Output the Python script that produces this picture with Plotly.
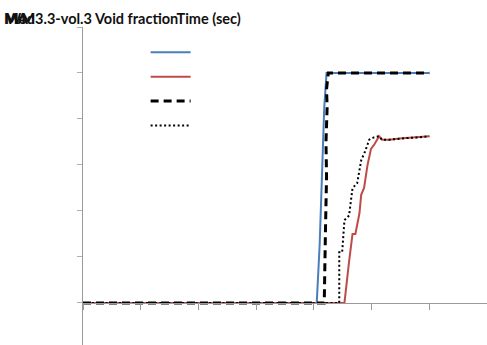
import plotly.graph_objects as go

# Time axis (sec) and void fraction series at volume 3
t_blue = [0, 20, 40.5, 41.0, 41.4, 41.8, 42.2, 45, 50, 55, 60]
vf_blue = [0, 0, 0, 0.25, 0.55, 0.85, 1.0, 1.0, 1.0, 1.0, 1.0]

t_red = [0, 20, 40, 45.3, 46.1, 46.7, 47.2, 47.9, 48.2, 48.7, 49.3, 49.9, 50.5,
         51.3, 51.8, 53.1, 54.8, 56.5, 58.2, 60]
vf_red = [0, 0, 0, 0, 0.18, 0.30, 0.30, 0.39, 0.47, 0.50, 0.60, 0.67, 0.69,
          0.725, 0.71, 0.71, 0.715, 0.718, 0.72, 0.725]

t_dash = [0, 20, 41.8, 42.0, 42.2, 42.1, 42.3, 42.2, 42.5, 45, 50, 55, 60]
vf_dash = [0, 0, 0, 0.3, 0.55, 0.7, 0.85, 0.93, 1.0, 1.0, 1.0, 1.0, 1.0]

t_dot = [0, 20, 44.4, 44.4, 44.9, 45.3, 46.1, 46.7, 47.5, 48.2, 48.9, 49.6,
         50.4, 51.3, 51.8, 53.1, 54.8, 56.5, 58.2, 60]
vf_dot = [0, 0, 0, 0.22, 0.22, 0.36, 0.38, 0.50, 0.52, 0.62, 0.66, 0.71,
          0.72, 0.725, 0.71, 0.71, 0.715, 0.718, 0.72, 0.725]

x_ticks = [0, 10, 20, 30, 40, 50, 60, 70]
y_ticks = [0, 0.2, 0.4, 0.6, 0.8, 1.0, 1.2]
x_range = [0, 70]
y_range = [-0.183, 1.2]

fig = go.Figure()
fig.add_trace(go.Scatter(x=t_blue, y=vf_blue, mode="lines", name=" ",
                         line=dict(color="#4a7ebb", width=2)))
fig.add_trace(go.Scatter(x=t_red, y=vf_red, mode="lines", name=" ",
                         line=dict(color="#be4b48", width=2)))
fig.add_trace(go.Scatter(x=t_dash, y=vf_dash, mode="lines", name=" ",
                         line=dict(color="black", width=3, dash="8px,5px")))
fig.add_trace(go.Scatter(x=t_dot, y=vf_dot, mode="lines", name=" ",
                         line=dict(color="black", width=2, dash="2px,2.5px")))

# x axis crosses the value axis at zero
x_cross = (0 - y_range[0]) / (y_range[1] - y_range[0])

fig.update_layout(
    width=487, height=345,
    margin=dict(l=83, r=0, t=27, b=0),
    paper_bgcolor="white", plot_bgcolor="white",
    showlegend=True,
    legend=dict(x=0.155, y=0.975, xanchor="left", yanchor="top",
                bgcolor="rgba(0,0,0,0)", font=dict(size=16.5, color="white"),
                itemwidth=40),
    xaxis=dict(range=x_range, tickvals=x_ticks, showticklabels=False,
               showgrid=False, zeroline=False, showline=True,
               linecolor="#9a9a9a", linewidth=1, ticks="outside",
               ticklen=6, tickcolor="#9a9a9a", anchor="free",
               position=x_cross),
    yaxis=dict(range=y_range, tickvals=y_ticks, showticklabels=False,
               showgrid=False, zeroline=False, showline=True,
               linecolor="#9a9a9a", linewidth=1, ticks="outside",
               ticklen=5, tickcolor="#b0b0b0"),
)

# Overlapping series captions in the header line
title_font = dict(family="Lato", size=14.5, color="#111111")
fig.add_annotation(text="<b>Mod3.3-vol.3 Void fractionTime (sec)</b>",
                   xref="paper", yref="paper", x=-80/404, y=1.0,
                   xanchor="left", yanchor="bottom", showarrow=False,
                   yshift=-2, font=title_font)
fig.add_annotation(text="<b>MA</b>",
                   xref="paper", yref="paper", x=-81/404, y=1.0,
                   xanchor="left", yanchor="bottom", showarrow=False,
                   yshift=-2, font=title_font)
fig.add_annotation(text="<b>WM</b>",
                   xref="paper", yref="paper", x=-79/404, y=1.0,
                   xanchor="left", yanchor="bottom", showarrow=False,
                   yshift=-2, font=title_font)

fig.write_html("out.html")
